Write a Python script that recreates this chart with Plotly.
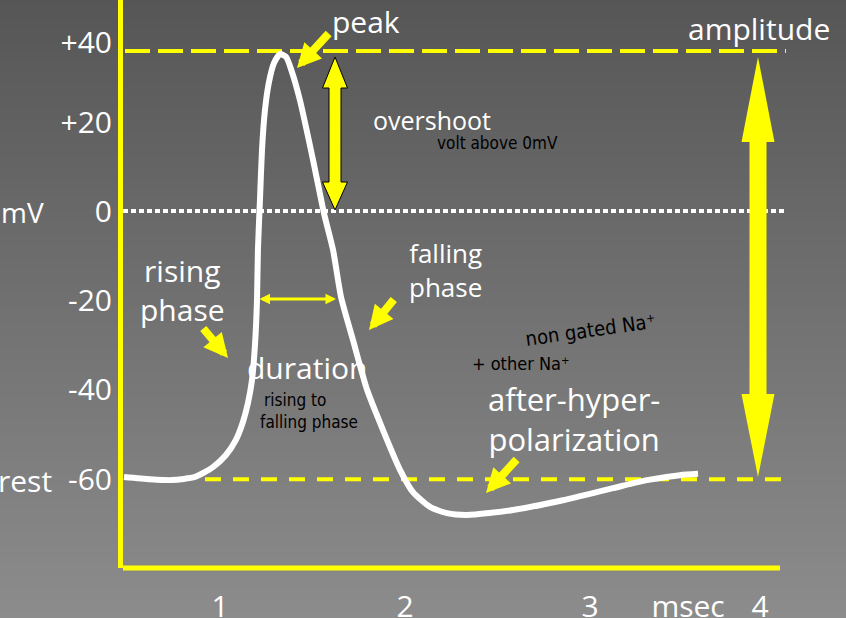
import plotly.graph_objects as go

# ---------------- data ----------------
TIME_MS = [0.481, 0.622, 0.741, 0.865, 0.962, 1.032, 1.086, 1.124, 1.151, 1.173,
           1.189, 1.200, 1.205, 1.216, 1.227, 1.243, 1.265, 1.292, 1.324, 1.357,
           1.389, 1.432, 1.503, 1.562, 1.611, 1.654, 1.719, 1.795, 1.881, 1.973,
           2.043, 2.135, 2.227, 2.335, 2.584, 2.854, 3.124, 3.308, 3.486, 3.584]
VOLTAGE_MV = [-59.5, -60.0, -60.2, -59.5, -57.3, -54.6, -51.2, -47.2, -43.0, -37.8,
              -30.0, -19.9, -8.7, 2.5, 13.7, 22.6, 28.9, 33.1, 35.1, 34.5,
              31.1, 24.8, 11.4, -0.5, -8.7, -19.2, -28.9, -40.0, -49.0, -57.9,
              -62.9, -66.2, -67.6, -68.0, -66.9, -64.7, -62.0, -60.2, -59.1, -58.8]

Y_TICK_VALS = [37.6, 19.7, 0, -20, -40, -60]
Y_TICK_TEXT = ["+40", "+20", "0", "-20", "-40", "-60"]
X_TICK_VALS = [1.0, 2.0, 3.0, 3.53, 3.92]
X_TICK_TEXT = ["1", "2", "3", "msec", "4"]

PEAK_LINE_MV = 35.8
ZERO_MV = 0
REST_MV = -60

# ---------------- layout geometry (pixels) ----------------
W, H = 846, 618
ML, MR, MT, MB = 123, 0, 0, 50
PW, PH = W - ML - MR, H - MT - MB
X0_PX, PX_PER_MS = 35, 185.0      # pixel of t=0 and pixels per msec
Y0_PX, PX_PER_MV = 211, 4.47      # pixel of 0 mV and pixels per mV


def fx(px):
    return (px - X0_PX) / PX_PER_MS


def fy(py):
    return (Y0_PX - py) / PX_PER_MV


def paper_x(px):
    return (px - ML) / PW


def paper_y(py):
    return (H - MB - py) / PH


YELLOW = "#ffff00"
WHITE = "#ffffff"
FONT = "Open Sans, Lato, sans-serif"
HAND = "Liberation Sans Narrow, DejaVu Sans Condensed, sans-serif"

fig = go.Figure()
fig.add_trace(go.Scatter(
    x=TIME_MS, y=VOLTAGE_MV, mode="lines",
    line=dict(color=WHITE, width=6, shape="spline", smoothing=0.6),
    hoverinfo="skip", showlegend=False))

shapes = []
# vertical gradient background
N = 103
for i in range(N):
    p0, p1 = i * 6, min(H, (i + 1) * 6)
    f = (i + 0.5) / N
    g = int(round(86 + (140 - 86) * f))
    shapes.append(dict(type="rect", xref="paper", yref="paper", layer="below",
                       x0=-0.5, x1=1.5, y0=paper_y(p1 + 2), y1=paper_y(p0),
                       fillcolor=f"rgb({g},{g},{g})", line=dict(width=0)))

# reference lines
shapes.append(dict(type="line", xref="x", yref="y", layer="below",
                   x0=fx(125), x1=fx(786), y0=PEAK_LINE_MV, y1=PEAK_LINE_MV,
                   line=dict(color=YELLOW, width=4, dash="25px,8px")))
shapes.append(dict(type="line", xref="x", yref="y", layer="below",
                   x0=fx(123), x1=fx(786), y0=ZERO_MV, y1=ZERO_MV,
                   line=dict(color=WHITE, width=4, dash="5px,3px")))
shapes.append(dict(type="line", xref="x", yref="y", layer="below",
                   x0=fx(205), x1=fx(786), y0=REST_MV, y1=REST_MV,
                   line=dict(color=YELLOW, width=4, dash="16px,12px")))
# bottom axis line
shapes.append(dict(type="line", xref="x", yref="paper", layer="above",
                   x0=fx(118), x1=fx(780), y0=0, y1=0,
                   line=dict(color=YELLOW, width=5)))


def vdouble_arrow(xc, ytop, ybot, shaft, head, hlen_top, hlen_bot):
    pts = [(xc, ytop), (xc + head / 2, ytop + hlen_top), (xc + shaft / 2, ytop + hlen_top),
           (xc + shaft / 2, ybot - hlen_bot), (xc + head / 2, ybot - hlen_bot), (xc, ybot),
           (xc - head / 2, ybot - hlen_bot), (xc - shaft / 2, ybot - hlen_bot),
           (xc - shaft / 2, ytop + hlen_top), (xc - head / 2, ytop + hlen_top)]
    return "M " + " L ".join(f"{fx(x):.5f},{fy(y):.5f}" for x, y in pts) + " Z"


# overshoot arrow (outlined) and amplitude arrow
shapes.append(dict(type="path", xref="x", yref="y", layer="above",
                   path=vdouble_arrow(335, 57, 210, 12, 25, 31, 28),
                   fillcolor=YELLOW, line=dict(color="#000000", width=1)))
shapes.append(dict(type="path", xref="x", yref="y", layer="above",
                   path=vdouble_arrow(758, 57, 477, 17, 33, 85, 83),
                   fillcolor=YELLOW, line=dict(width=0)))

annotations = []


def label(text, cx, cy, size=30, color=WHITE, family=FONT, xanchor="center", angle=0):
    annotations.append(dict(text=text, x=paper_x(cx), y=paper_y(cy),
                            xref="paper", yref="paper",
                            showarrow=False, xanchor=xanchor, yanchor="middle",
                            textangle=angle,
                            font=dict(size=size, color=color, family=family)))


def arrow(tail, tip, width=8, size=0.6):
    annotations.append(dict(text="", x=fx(tip[0]), y=fy(tip[1]),
                            ax=fx(tail[0]), ay=fy(tail[1]),
                            xref="x", yref="y", axref="x", ayref="y",
                            showarrow=True, arrowhead=2, arrowsize=size,
                            arrowwidth=width, arrowcolor=YELLOW))


label("peak", 366, 21)
label("amplitude", 759, 28)
label("overshoot", 432, 120, size=25)
label("rising<br>phase", 182, 290)
label("duration", 307, 367)
label("falling<br>phase", 445, 270, size=26)
label("after-hyper-<br>polarization", 574, 419, size=31)
label("mV", 22, 212, size=28)
label("rest", 54, 480, xanchor="right")

# handwritten notes
label("volt above 0mV", 497, 143, size=17, color="#000000", family=HAND)
label("non gated Na⁺", 590, 330, size=20, color="#000000", family=HAND, angle=-8)
label("+ other Na⁺", 521, 363, size=18, color="#000000", family=HAND)
label("rising to", 295, 400, size=17, color="#000000", family=HAND)
label("falling phase", 309, 422, size=17, color="#000000", family=HAND)

arrow((330, 32), (297, 68))
arrow((202, 327), (228, 358))
arrow((395, 298), (369, 330))
arrow((518, 458), (486, 493))

# duration double arrow
annotations.append(dict(text="", x=fx(336), y=fy(299), ax=fx(258), ay=fy(299),
                        xref="x", yref="y", axref="x", ayref="y",
                        showarrow=True, arrowhead=2, startarrowhead=2,
                        arrowside="end+start", arrowsize=0.7, startarrowsize=0.7,
                        arrowwidth=3, arrowcolor=YELLOW))

fig.update_layout(
    width=W, height=H, autosize=False,
    margin=dict(l=ML, r=MR, t=MT, b=MB, pad=0, autoexpand=False),
    paper_bgcolor="rgb(138,138,138)", plot_bgcolor="rgba(0,0,0,0)",
    showlegend=False,
    shapes=shapes, annotations=annotations,
    xaxis=dict(range=[fx(ML), fx(W - MR)], showgrid=False, zeroline=False,
               showline=False, ticks="", tickvals=X_TICK_VALS, ticktext=X_TICK_TEXT,
               tickfont=dict(size=30, color=WHITE, family=FONT),
               ticklabelstandoff=18, automargin=False, fixedrange=True),
    yaxis=dict(range=[fy(H - MB), fy(MT)], showgrid=False, zeroline=False,
               showline=True, linecolor=YELLOW, linewidth=5, ticks="",
               tickvals=Y_TICK_VALS, ticktext=Y_TICK_TEXT,
               tickfont=dict(size=30, color=WHITE, family=FONT),
               ticklabelstandoff=0, automargin=False, fixedrange=True),
)

fig.write_html("out.html",
               config={"displayModeBar": False, "responsive": False},
               post_script="document.body.style.margin='0px';"
                           "document.body.style.padding='0px';"
                           "document.body.style.overflow='hidden';")
